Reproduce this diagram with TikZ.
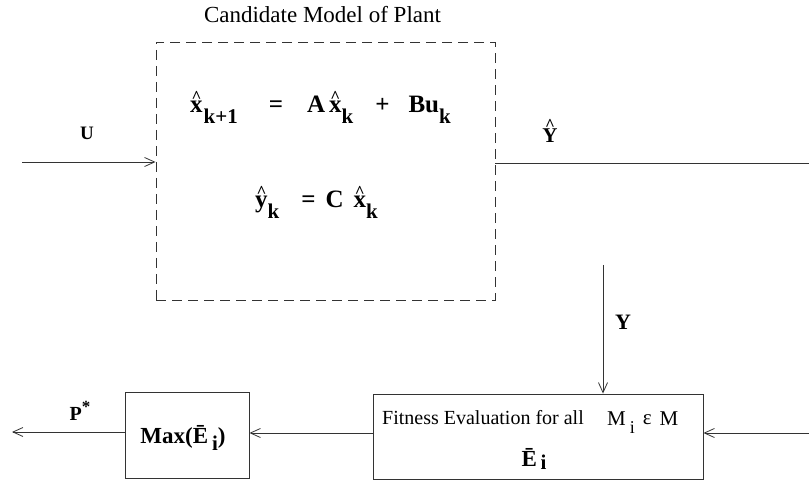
\documentclass[tikz,border=0pt]{standalone}
\usepackage{fontspec}
\setmainfont{Liberation Serif}
\usetikzlibrary{arrows.meta}
\newcommand\fs[1]{\fontsize{#1}{#1}\selectfont}
\newcommand\hatof[2]{\ooalign{#1\cr\hidewidth\raisebox{#2}{\fs{17}\bfseries\textasciicircum}\hidewidth\cr}}
\newcommand\subsc[2][-11pt]{\raisebox{#1}{\fs{21}#2}}
\tikzset{
  conn/.style={line width=0.9pt, draw=black!80},
  arr/.style={conn, -{Straight Barb[length=10pt,width=9pt,line width=0.8pt]}},
  blockbox/.style={draw=black!80, line width=0.9pt, inner sep=0pt},
  lbl/.style={inner sep=0pt, anchor=base},
  lblw/.style={inner sep=0pt, anchor=base west},
}
\begin{document}
\begin{tikzpicture}[x=1pt,y=-1pt]
\useasboundingbox (0,0) rectangle (809,481);
% blocks
\node[blockbox, dashed, dash pattern=on 10pt off 6pt, minimum width=339pt, minimum height=258pt] (model) at (325.5,171) {};
\node[blockbox, minimum width=124pt, minimum height=86pt] (maxb) at (187,435) {};
\node[blockbox, minimum width=330pt, minimum height=85pt] (fit) at (538,436.5) {};
% texts
\node[lbl] (title) at (322.5,23) {\fs{23}Candidate Model of Plant};
\node[lblw] (eq1) at (190,113) {\fs{25}\bfseries \hatof{x}{10pt}\hspace{1pt}\subsc{k+1}\hspace{31pt}=\hspace{24pt}A\hspace{4pt}\hatof{x}{10pt}\subsc{k}\hspace{22pt}+\hspace{19pt}Bu\subsc{k}};
\node[lblw] (eq2) at (255,208) {\fs{25}\bfseries \hatof{y}{10pt}\subsc{k}\hspace{22pt}=\hspace{10pt}C\hspace{10pt}\hatof{x}{10pt}\subsc{k}};
\node[lbl] (maxt) at (183,443) {\fs{23}\bfseries Max(Ē\,\subsc[-7pt]{i})};
\node[lbl] (fitt) at (483,424) {\fs{20}Fitness Evaluation for all};
\node[lblw] (mset) at (607,425) {\fs{21}M\hspace{4pt}\subsc[-8pt]{\fs{18}i}\hspace{8pt}\raisebox{1pt}{ε}\hspace{8pt}M};
\node[lbl] (ebar) at (534,466) {\fs{23}\bfseries Ē\,\subsc[-3pt]{i}};
% labels
\node[lbl] (ulbl) at (87,140) {\fs{19}\bfseries U};
\node[lbl] (yhlbl) at (550,143) {\fs{21}\bfseries \hatof{Y}{12pt}};
\node[lbl] (ylbl) at (623,330) {\fs{22}\bfseries Y};
\node[lbl] (plbl) at (80,420) {\fs{20}\bfseries P\raisebox{8pt}{\fs{17}*}};
% coordinates
\coordinate (uin) at (22,162);
\coordinate (yout) at (809,163);
\coordinate (ytop) at (603,265);
\coordinate (rin) at (809,433);
\coordinate (pout) at (12,432);
% connectors
\draw[arr] (uin) -- (uin -| model.west);
\draw[conn] (yout -| model.east) -- (yout);
\draw[arr] (ytop) -- (ytop |- fit.north);
\draw[arr] (rin) -- (rin -| fit.east);
\draw[arr] (fit.west |- rin) -- (rin -| maxb.east);
\draw[arr] (pout -| maxb.west) -- (pout);
\end{tikzpicture}
\end{document}
